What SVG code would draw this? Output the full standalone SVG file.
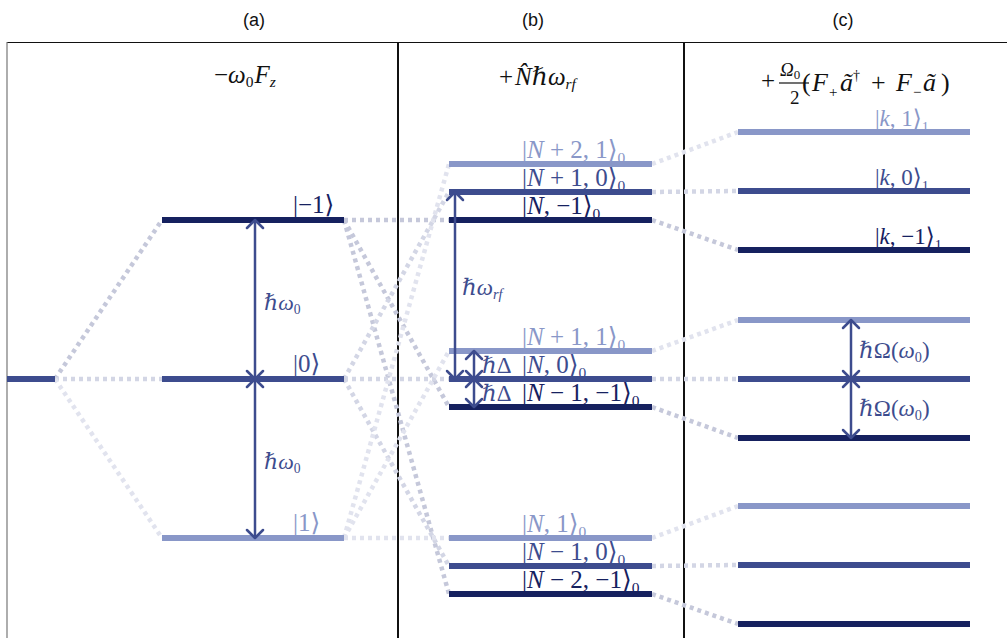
<svg xmlns="http://www.w3.org/2000/svg" width="1007" height="638" viewBox="0 0 1007 638">
  <defs>
    <style>
      .hdr { font-family: "Liberation Sans", Arial, sans-serif; font-size: 18px; fill: #111; text-anchor: middle; }
      .m { font-family: "Liberation Serif", "DejaVu Serif", serif; }
      .i { font-style: italic; }
      .sub { font-size: 0.62em; }
      .ttl { font-size: 25px; fill: #111; }
      .lvl { stroke-width: 6; fill: none; }
      .dk { stroke: #16215f; }
      .md { stroke: #3d4c8e; }
      .lt { stroke: #8997c8; }
      .tdk { fill: #16215f; }
      .tmd { fill: #3d4c8e; }
      .tlt { fill: #8997c8; }
      .con { fill: none; stroke-width: 4.5; stroke-dasharray: 4 4; }
      .cd { stroke: #c5c8da; }
      .cm { stroke: #d3d6e5; }
      .cl { stroke: #e1e3ee; }
      .arr { stroke: #3d4c8e; stroke-width: 2.5; fill: none; marker-start: url(#head); marker-end: url(#head); }
      .frame { stroke: #111; fill: none; }
    </style>
    <marker id="head" markerUnits="userSpaceOnUse" viewBox="-10 -10 12 20" refX="0" refY="0" markerWidth="12" markerHeight="20" orient="auto-start-reverse" overflow="visible">
      <path d="M-8,-8 L0,0 L-8,8" fill="none" stroke="#3d4c8e" stroke-width="2.5" stroke-linecap="round" stroke-linejoin="round"/>
    </marker>
  </defs>

  <rect width="1007" height="638" fill="#fff"/>

  <!-- panel headers -->
  <g id="headers">
    <text class="hdr" x="254" y="26">(a)</text>
    <text class="hdr" x="533" y="26">(b)</text>
    <text class="hdr" x="843" y="26">(c)</text>
  </g>

  <!-- frame and panel dividers -->
  <g id="frame">
    <line class="frame" x1="7" y1="42.5" x2="1007" y2="42.5" stroke-width="1.2"/>
    <line x1="7" y1="42" x2="7" y2="638" stroke="#777" stroke-width="1.2"/>
    <line class="frame" x1="398" y1="42" x2="398" y2="638" stroke-width="2"/>
    <line class="frame" x1="684" y1="42" x2="684" y2="638" stroke-width="2"/>
  </g>

  <!-- Hamiltonian terms -->
  <g id="titles" class="m ttl">
    <text x="214" y="83">−<tspan class="i">ω</tspan><tspan class="sub" dy="4">0</tspan><tspan class="i" dy="-4" dx="1">F</tspan><tspan class="sub i" dy="4">z</tspan></text>
    <text x="499" y="85">+<tspan class="i" dx="2">N̂</tspan>ℏ<tspan class="i">ω</tspan><tspan class="sub i" dy="4">rf</tspan></text>
    <g>
      <text x="761" y="89">+</text>
      <text x="780" y="76" font-size="19"><tspan class="i">Ω</tspan><tspan font-size="13" dy="3">0</tspan></text>
      <line x1="779" y1="83" x2="809" y2="83" stroke="#111" stroke-width="1.2"/>
      <text x="790" y="104" font-size="19">2</text>
      <g font-size="26">
        <text x="802" y="91">(</text>
        <text x="812" y="91" class="i">F</text>
        <text x="829" y="97" font-size="15">+</text>
        <text x="840" y="91" class="i">ã</text>
        <text x="853" y="80" font-size="14">†</text>
        <text x="871" y="91">+</text>
        <text x="896" y="91" class="i">F</text>
        <text x="913" y="97" font-size="15">−</text>
        <text x="923" y="91" class="i">ã</text>
        <text x="941" y="91">)</text>
      </g>
    </g>
  </g>

  <!-- dotted correlation lines between levels -->
  <g id="connectors">
    <!-- (a): degenerate level splitting -->
    <path class="con cd" d="M55,379 L162,220"/>
    <path class="con cm" d="M55,379 L162,379"/>
    <path class="con cl" d="M55,379 L162,538"/>
    <!-- (a) to (b) -->
    <path class="con cd" d="M344,220 L449,220"/>
    <path class="con cd" d="M344,220 L449,407"/>
    <path class="con cd" d="M344,220 L449,594"/>
    <path class="con cm" d="M344,379 L449,192"/>
    <path class="con cm" d="M344,379 L449,379"/>
    <path class="con cm" d="M344,379 L449,566"/>
    <path class="con cl" d="M344,538 L449,164"/>
    <path class="con cl" d="M344,538 L449,351"/>
    <path class="con cl" d="M344,538 L449,538"/>
    <!-- (b) to (c) -->
    <path class="con cl" d="M652,164 L738,132"/>
    <path class="con cm" d="M652,192 L738,191"/>
    <path class="con cd" d="M652,220 L738,250"/>
    <path class="con cl" d="M652,351 L738,320"/>
    <path class="con cm" d="M652,379 L738,379"/>
    <path class="con cd" d="M652,407 L738,438"/>
    <path class="con cl" d="M652,538 L738,506"/>
    <path class="con cm" d="M652,566 L738,565"/>
    <path class="con cd" d="M652,594 L738,624"/>
  </g>

  <!-- panel (a): bare spin levels -->
  <g id="level-a-degenerate"><line class="lvl md" x1="7" y1="379" x2="55" y2="379"/></g>
  <g id="level-a-m1">
    <line class="lvl dk" x1="162" y1="220" x2="344" y2="220"/>
    <text class="m tdk" x="293" y="213" font-size="25">|−1⟩</text>
  </g>
  <g id="level-a-0">
    <line class="lvl md" x1="162" y1="379" x2="344" y2="379"/>
    <text class="m tmd" x="293" y="372" font-size="25">|0⟩</text>
  </g>
  <g id="level-a-p1">
    <line class="lvl lt" x1="162" y1="538" x2="344" y2="538"/>
    <text class="m tlt" x="293" y="531" font-size="25">|1⟩</text>
  </g>
  <g id="arrows-a">
    <line class="arr" x1="255" y1="220" x2="255" y2="379"/>
    <line class="arr" x1="255" y1="379" x2="255" y2="538"/>
    <text class="m tmd" x="264" y="310" font-size="22">ℏ<tspan class="i">ω</tspan><tspan class="sub" dy="4">0</tspan></text>
    <text class="m tmd" x="264" y="469" font-size="22">ℏ<tspan class="i">ω</tspan><tspan class="sub" dy="4">0</tspan></text>
  </g>

  <!-- panel (b): dressed levels -->
  <g id="level-b-N2-1">
    <line class="lvl lt" x1="449" y1="164" x2="652" y2="164"/>
    <text class="m tlt" x="522" y="158" font-size="25">|<tspan class="i">N</tspan> + 2, 1⟩<tspan class="sub" dy="5">0</tspan></text>
  </g>
  <g id="level-b-N1-0">
    <line class="lvl md" x1="449" y1="192" x2="652" y2="192"/>
    <text class="m tmd" x="522" y="186" font-size="25">|<tspan class="i">N</tspan> + 1, 0⟩<tspan class="sub" dy="5">0</tspan></text>
  </g>
  <g id="level-b-N-m1">
    <line class="lvl dk" x1="449" y1="220" x2="652" y2="220"/>
    <text class="m tdk" x="522" y="214" font-size="25">|<tspan class="i">N</tspan>, −1⟩<tspan class="sub" dy="5">0</tspan></text>
  </g>
  <g id="level-b-N1-1">
    <line class="lvl lt" x1="449" y1="351" x2="652" y2="351"/>
    <text class="m tlt" x="522" y="345" font-size="25">|<tspan class="i">N</tspan> + 1, 1⟩<tspan class="sub" dy="5">0</tspan></text>
  </g>
  <g id="level-b-N-0">
    <line class="lvl md" x1="449" y1="379" x2="652" y2="379"/>
    <text class="m tmd" x="522" y="373" font-size="25">|<tspan class="i">N</tspan>, 0⟩<tspan class="sub" dy="5">0</tspan></text>
  </g>
  <g id="level-b-Nm1-m1">
    <line class="lvl dk" x1="449" y1="407" x2="652" y2="407"/>
    <text class="m tdk" x="522" y="401" font-size="25">|<tspan class="i">N</tspan> − 1, −1⟩<tspan class="sub" dy="5">0</tspan></text>
  </g>
  <g id="level-b-N-1">
    <line class="lvl lt" x1="449" y1="538" x2="652" y2="538"/>
    <text class="m tlt" x="522" y="532" font-size="25">|<tspan class="i">N</tspan>, 1⟩<tspan class="sub" dy="5">0</tspan></text>
  </g>
  <g id="level-b-Nm1-0">
    <line class="lvl md" x1="449" y1="566" x2="652" y2="566"/>
    <text class="m tmd" x="522" y="560" font-size="25">|<tspan class="i">N</tspan> − 1, 0⟩<tspan class="sub" dy="5">0</tspan></text>
  </g>
  <g id="level-b-Nm2-m1">
    <line class="lvl dk" x1="449" y1="594" x2="652" y2="594"/>
    <text class="m tdk" x="522" y="588" font-size="25">|<tspan class="i">N</tspan> − 2, −1⟩<tspan class="sub" dy="5">0</tspan></text>
  </g>
  <g id="arrows-b">
    <line class="arr" x1="455" y1="192" x2="455" y2="379"/>
    <text class="m tmd" x="462" y="295" font-size="23">ℏ<tspan class="i">ω</tspan><tspan class="sub i" dy="4">rf</tspan></text>
    <line class="arr" x1="474" y1="351" x2="474" y2="379"/>
    <line class="arr" x1="474" y1="379" x2="474" y2="407"/>
    <text class="m tmd" x="482" y="373" font-size="23">ℏΔ</text>
    <text class="m tmd" x="482" y="401" font-size="23">ℏΔ</text>
  </g>

  <!-- panel (c): coupled levels -->
  <g id="level-c-k-1">
    <line class="lvl lt" x1="738" y1="132" x2="970" y2="132"/>
    <text class="m tlt" x="875" y="126" font-size="23">|<tspan class="i">k</tspan>, 1⟩<tspan class="sub" dy="6">1</tspan></text>
  </g>
  <g id="level-c-k-0">
    <line class="lvl md" x1="738" y1="191" x2="970" y2="191"/>
    <text class="m tmd" x="875" y="185" font-size="23">|<tspan class="i">k</tspan>, 0⟩<tspan class="sub" dy="6">1</tspan></text>
  </g>
  <g id="level-c-k-m1">
    <line class="lvl dk" x1="738" y1="250" x2="970" y2="250"/>
    <text class="m tdk" x="875" y="244" font-size="23">|<tspan class="i">k</tspan>, −1⟩<tspan class="sub" dy="6">1</tspan></text>
  </g>
  <g id="level-c-mid-1"><line class="lvl lt" x1="738" y1="320" x2="970" y2="320"/></g>
  <g id="level-c-mid-0"><line class="lvl md" x1="738" y1="379" x2="970" y2="379"/></g>
  <g id="level-c-mid-m1"><line class="lvl dk" x1="738" y1="438" x2="970" y2="438"/></g>
  <g id="level-c-low-1"><line class="lvl lt" x1="738" y1="506" x2="970" y2="506"/></g>
  <g id="level-c-low-0"><line class="lvl md" x1="738" y1="565" x2="970" y2="565"/></g>
  <g id="level-c-low-m1"><line class="lvl dk" x1="738" y1="624" x2="970" y2="624"/></g>
  <g id="arrows-c">
    <line class="arr" x1="851" y1="320" x2="851" y2="379"/>
    <line class="arr" x1="851" y1="379" x2="851" y2="438"/>
    <text class="m tmd" x="859" y="358" font-size="23">ℏΩ(<tspan class="i">ω</tspan><tspan class="sub" dy="4">0</tspan><tspan dy="-4">)</tspan></text>
    <text class="m tmd" x="859" y="416" font-size="23">ℏΩ(<tspan class="i">ω</tspan><tspan class="sub" dy="4">0</tspan><tspan dy="-4">)</tspan></text>
  </g>
</svg>
